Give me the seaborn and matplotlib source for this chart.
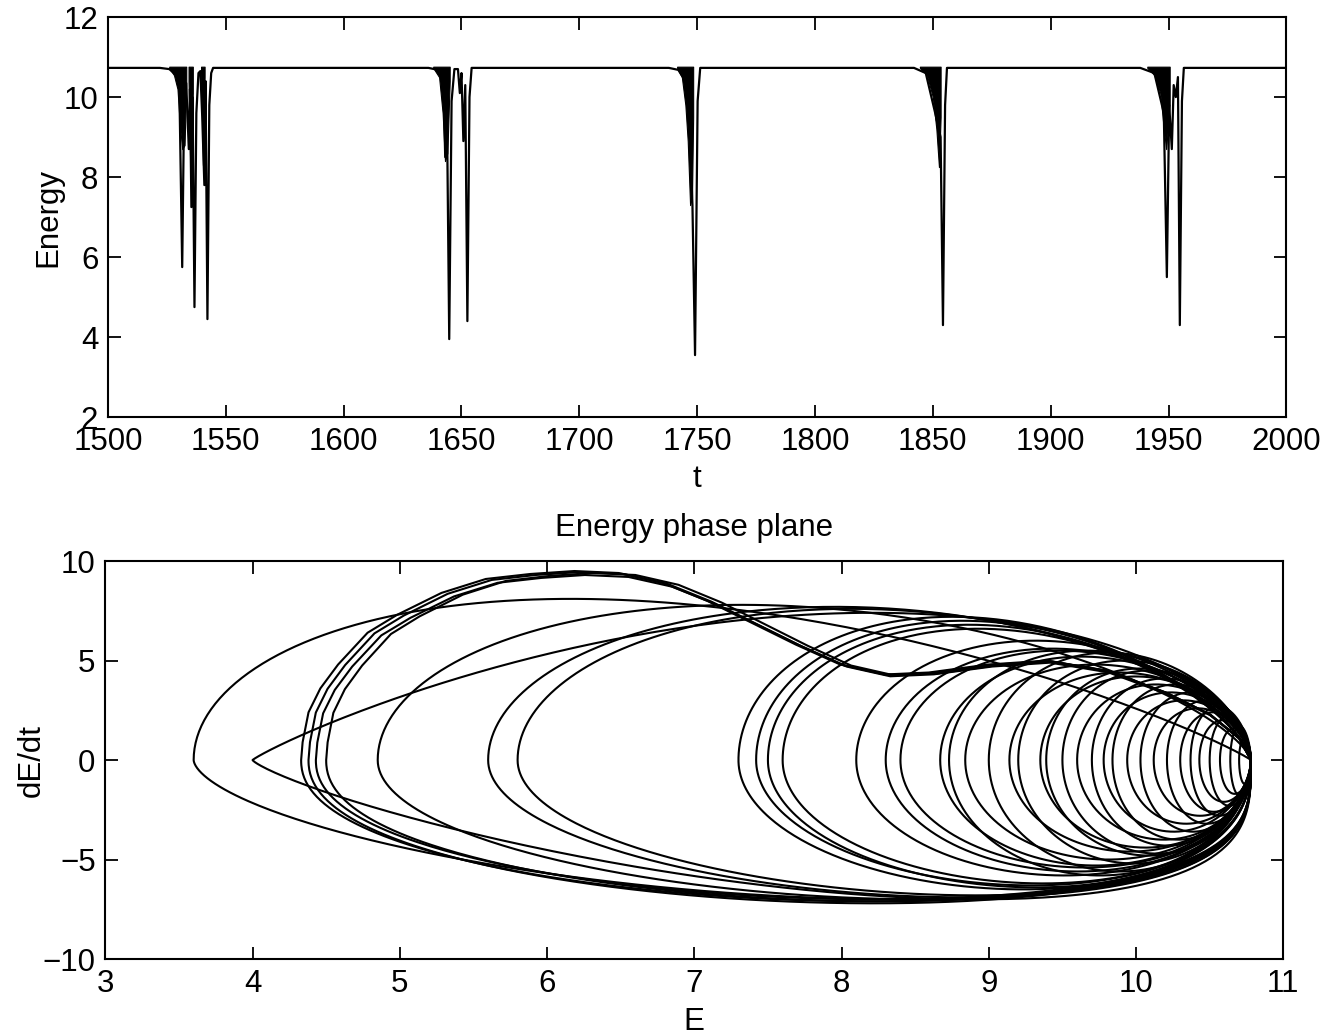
import numpy as np
import matplotlib
matplotlib.use("Agg")
import matplotlib.pyplot as plt
import seaborn as sns

# ---- top panel: energy trace, vertices ----
dip_t = [1500.0,
         1522.0, 1526.0, 1529.0, 1530.3, 1531.5, 1532.3, 1533.2, 1534.3, 1534.8, 1535.4, 1535.9,
         1536.7, 1537.5, 1538.4, 1539.2, 1540.0, 1540.9, 1541.4, 1542.2, 1543.0, 1543.8, 1544.6,
         1636.0, 1640.0, 1642.3, 1643.1, 1643.8, 1644.8, 1645.8, 1647.0, 1648.5, 1649.3, 1650.0,
         1650.8, 1651.6, 1652.5, 1653.4, 1654.3,
         1738.0, 1742.0, 1745.0, 1747.0, 1748.0, 1749.1, 1750.2, 1751.3,
         1842.0, 1847.0, 1851.0, 1853.3, 1854.3, 1855.2, 1856.0,
         1938.0, 1944.0, 1948.0, 1949.3, 1950.3, 1951.4, 1952.2, 1953.1, 1954.0, 1954.8, 1955.7, 1956.5,
         2000.0]
dip_e = [10.73,
         10.73, 10.70, 10.55, 10.20, 5.75, 9.80, 10.35, 8.70, 10.20, 7.25, 10.00,
         4.75, 9.60, 10.60, 10.65, 9.50, 7.80, 10.40, 4.45, 9.80, 10.60, 10.73,
         10.73, 10.68, 10.40, 8.50, 9.80, 3.95, 9.90, 10.70, 10.70, 10.10, 10.60,
         8.90, 10.30, 4.40, 10.00, 10.73,
         10.73, 10.68, 10.40, 9.00, 7.30, 3.55, 9.90, 10.73,
         10.73, 10.60, 9.60, 9.00, 4.30, 9.80, 10.73,
         10.73, 10.60, 9.60, 5.50, 9.80, 8.70, 10.30, 10.00, 10.50, 4.30, 9.90, 10.73,
         10.73]

# dense fast oscillations before each dip (lower envelope, filled up to the baseline)
bands = [
    ([1526.0, 1528.0, 1529.5, 1530.5, 1531.5, 1532.5, 1533.2], [10.72, 10.55, 10.20, 9.30, 8.70, 8.80, 10.30]),
    ([1534.2, 1535.0, 1536.0], [10.40, 8.00, 10.10]),
    ([1539.5, 1540.3, 1541.0], [10.60, 8.30, 10.50]),
    ([1638.0, 1640.5, 1642.0, 1643.0, 1644.0, 1645.0], [10.73, 10.50, 9.60, 8.40, 8.60, 10.40]),
    ([1741.5, 1743.5, 1745.0, 1746.0, 1747.0, 1747.8, 1748.3], [10.73, 10.50, 9.80, 8.90, 7.30, 7.50, 9.50]),
    ([1844.5, 1847.5, 1850.0, 1851.5, 1852.6, 1853.3], [10.73, 10.55, 10.00, 9.20, 8.25, 9.50]),
    ([1941.0, 1944.0, 1946.5, 1948.0, 1949.0, 1950.5], [10.73, 10.55, 10.10, 9.20, 8.70, 9.80]),
]

# ---- bottom panel: phase plane ----
nose_e = 10.78

# upper branch of the big loop bundle, traced (E, dE/dt)
bundle_top_e = [4.35, 4.36, 4.40, 4.48, 4.60, 4.80, 5.00, 5.30, 5.60, 5.90, 6.20, 6.50, 6.80,
                7.10, 7.40, 7.70, 8.00, 8.30, 8.60, 9.00, 9.40, 9.80, 10.20, 10.50, 10.70, 10.78]
bundle_top_y = [0.0, 0.9, 2.4, 3.6, 4.8, 6.4, 7.3, 8.4, 9.1, 9.35, 9.5, 9.4, 8.9,
                8.0, 6.9, 5.8, 4.8, 4.3, 4.4, 4.8, 5.0, 4.5, 3.4, 2.3, 1.1, 0.0]
bundle_emin = [4.33, 4.38, 4.43, 4.50]
bundle_top = [9.5, 9.45, 9.3, 9.4]
bundle_bot = [7.1, 7.2, 7.0, 7.1]

# other loops: left end, top height, bottom depth, shape exponents
loop_emin = [3.60, 4.00, 4.85, 5.60, 5.80,
             7.30, 7.42, 7.50, 7.60, 8.10, 8.30, 8.40,
             8.67, 8.73, 8.84, 9.00, 9.14, 9.20, 9.35, 9.39, 9.50, 9.60,
             9.70, 9.78, 9.84, 9.94, 10.03, 10.12, 10.21, 10.30, 10.37, 10.43,
             10.50, 10.57, 10.64, 10.70]
loop_top = [8.1, 7.4, 7.8, 7.7, 7.6,
            7.2, 7.0, 6.8, 6.6, 6.0, 5.6, 5.5,
            5.2, 5.5, 4.8, 5.4, 4.4, 5.0, 4.2, 4.6, 4.5, 3.8,
            4.1, 3.4, 3.8, 3.0, 3.4, 2.6, 3.0, 2.4, 2.7, 2.0,
            2.2, 1.6, 1.7, 1.1]
loop_bot = [7.0, 7.0, 7.0, 6.9, 6.8,
            6.5, 6.3, 6.4, 6.2, 5.8, 5.6, 5.4,
            5.3, 5.8, 5.0, 5.6, 4.6, 5.2, 4.4, 4.8, 4.7, 4.0,
            4.3, 3.6, 4.0, 3.2, 3.6, 2.8, 3.2, 2.6, 2.8, 2.1,
            2.3, 1.7, 1.8, 1.2]
loop_pt = [0.5, 0.9] + [0.5] * 34
loop_kt = [0.9, 0.55, 0.7, 0.6, 0.6,
           0.7, 0.7, 0.7, 0.7] + [0.6] * 27
loop_pb = [0.6, 0.8] + [0.5] * 34
loop_kb = [0.3, 0.3, 0.3, 0.3, 0.3,
           0.4, 0.4, 0.4, 0.4, 0.45, 0.45, 0.45,
           0.5, 0.5, 0.5, 0.5, 0.5, 0.5, 0.5, 0.5, 0.5, 0.5,
           0.55, 0.55, 0.55, 0.55, 0.55, 0.55, 0.55, 0.55, 0.55, 0.55,
           0.55, 0.55, 0.55, 0.55]

u = np.linspace(0, 1, 220)
s_grid = (1 - np.cos(np.pi * u)) / 2


def bump(p, k):
    f = s_grid ** p * (1 - s_grid) ** k
    return f / f.max()


sns.set_theme(style="ticks")
plt.rcParams["font.family"] = ["Liberation Sans", "DejaVu Sans"]
plt.rcParams.update({
    "xtick.direction": "in", "ytick.direction": "in",
    "xtick.major.size": 9, "ytick.major.size": 9,
    "xtick.major.width": 1.3, "ytick.major.width": 1.3,
    "axes.linewidth": 1.5, "axes.edgecolor": "black",
    "xtick.color": "black", "ytick.color": "black",
    "axes.labelcolor": "black", "text.color": "black",
    "xtick.labelsize": 22.5, "ytick.labelsize": 22.5,
})

fig = plt.figure(figsize=(13.33, 10.35), dpi=100)
ax1 = fig.add_axes([0.081, 0.597, 0.884, 0.3865])
ax2 = fig.add_axes([0.079, 0.0734, 0.8837, 0.3845])

# top: energy time series
for bt, blo in bands:
    ax1.fill_between(bt, blo, [10.76] * len(bt), color="black", lw=0.8)
sns.lineplot(x=dip_t, y=dip_e, sort=False, estimator=None, color="black", lw=1.6, ax=ax1)
ax1.set_xlim(1500, 2000)
ax1.set_ylim(2, 12)
ax1.set_xticks(range(1500, 2001, 50))
ax1.set_yticks(range(2, 13, 2))
ax1.set_xlabel("t", fontsize=22.5, labelpad=5)
ax1.set_ylabel("Energy", fontsize=22.5, labelpad=0)

# bottom: phase plane
tmpl_s = (np.array(bundle_top_e) - bundle_top_e[0]) / (nose_e - bundle_top_e[0])
for em, tp, bt in zip(bundle_emin, bundle_top, bundle_bot):
    e = em + s_grid * (nose_e - em)
    e_top = em + tmpl_s * (nose_e - em)
    y_top = np.array(bundle_top_y) * tp / max(bundle_top_y)
    x = np.r_[e[::-1], e_top]
    y = np.r_[-bt * bump(0.45, 0.3)[::-1], y_top]
    sns.lineplot(x=x, y=y, sort=False, estimator=None, color="black", lw=1.5, ax=ax2)

for em, tp, bt, pt, kt, pb, kb in zip(loop_emin, loop_top, loop_bot,
                                      loop_pt, loop_kt, loop_pb, loop_kb):
    e = em + s_grid * (nose_e - em)
    x = np.r_[e[::-1], e]
    y = np.r_[-bt * bump(pb, kb)[::-1], tp * bump(pt, kt)]
    sns.lineplot(x=x, y=y, sort=False, estimator=None, color="black", lw=1.5, ax=ax2)

ax2.set_xlim(3, 11)
ax2.set_ylim(-10, 10)
ax2.set_xticks(range(3, 12))
ax2.set_yticks(range(-10, 11, 5))
ax2.set_yticklabels(["\u221210", "\u22125", "0", "5", "10"])
ax2.set_xlabel("E", fontsize=22.5, labelpad=6)
ax2.set_ylabel("dE/dt", fontsize=22.5, labelpad=-3)
ax2.set_title("Energy phase plane", fontsize=22.5, pad=18)

for ax in (ax1, ax2):
    ax.tick_params(top=True, right=True, pad=7)
    for sp in ax.spines.values():
        sp.set_visible(True)
        sp.set_color("black")

fig.savefig("out.png", dpi=100, facecolor="white")
